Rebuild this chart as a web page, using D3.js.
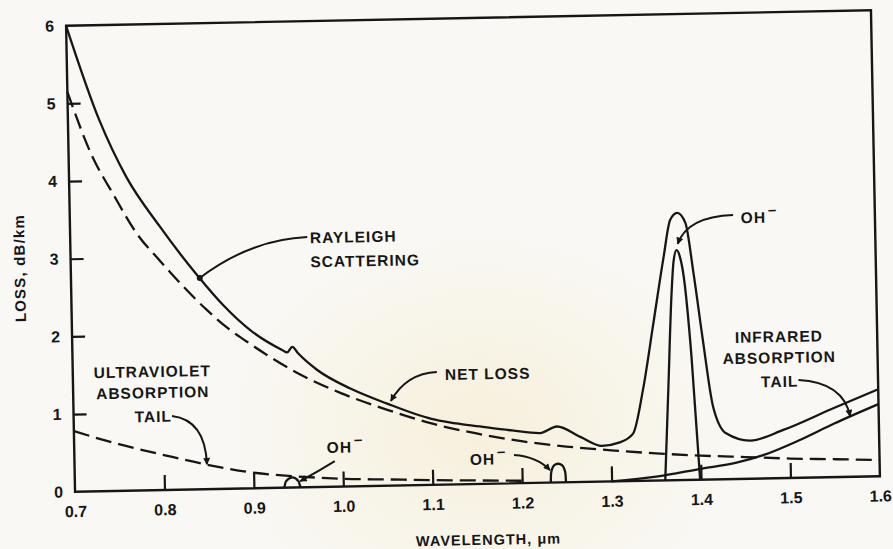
<!DOCTYPE html>
<html>
<head>
<meta charset="utf-8">
<script src="https://cdn.jsdelivr.net/npm/d3@7"></script>
<style>
  html, body { margin: 0; padding: 0; background: #f9f8f4; }
  figure { margin: 0; }
  svg { display: block; }
  text { font-family: "Liberation Sans", Arial, sans-serif; font-weight: bold; fill: #161616; }
</style>
</head>
<body>
<figure id="chart"></figure>
<script>
// values (wavelength in um, loss in dB/km)
const xTicks = [0.7, 0.8, 0.9, 1.0, 1.1, 1.2, 1.3, 1.4, 1.5, 1.6];
const yTicks = [0, 1, 2, 3, 4, 5, 6];

const netWl   = [0.70, 0.735, 0.764, 0.80, 0.843, 0.87, 0.90, 0.935, 0.940, 0.946, 0.952, 0.973, 1.01, 1.05, 1.10, 1.12, 1.154, 1.19, 1.221, 1.240, 1.266, 1.29, 1.31, 1.325, 1.337, 1.350, 1.363, 1.371, 1.379, 1.388, 1.396, 1.405, 1.415, 1.429, 1.456, 1.493, 1.55, 1.60];
const netLoss = [6.00, 4.78, 4.04, 3.40, 2.73, 2.36, 2.03, 1.77, 1.74, 1.81, 1.73, 1.51, 1.26, 1.06, 0.85, 0.80, 0.74, 0.68, 0.64, 0.72, 0.58, 0.46, 0.50, 0.61, 1.17, 2.02, 2.88, 3.35, 3.44, 3.31, 2.66, 1.80, 0.94, 0.59, 0.49, 0.62, 0.89, 1.12];

const rayWl   = [0.70, 0.725, 0.75, 0.775, 0.80, 0.825, 0.85, 0.875, 0.90, 0.95, 1.00, 1.05, 1.10, 1.15, 1.20, 1.25, 1.30, 1.35, 1.40, 1.45, 1.50, 1.55, 1.60];
const rayLoss = [5.15, 4.35, 3.80, 3.30, 2.95, 2.62, 2.32, 2.06, 1.85, 1.48, 1.20, 0.98, 0.79, 0.65, 0.54, 0.46, 0.40, 0.35, 0.31, 0.28, 0.25, 0.23, 0.21];

const uvWl   = [0.70, 0.75, 0.80, 0.85, 0.90, 0.95, 1.00, 1.05, 1.10, 1.15, 1.20];
const uvLoss = [0.78, 0.60, 0.45, 0.31, 0.20, 0.14, 0.10, 0.08, 0.06, 0.045, 0.03];

const irWl   = [1.30, 1.35, 1.40, 1.44, 1.47, 1.51, 1.55, 1.60];
const irLoss = [0.00, 0.05, 0.14, 0.21, 0.30, 0.48, 0.69, 0.93];

const oh1Wl   = [0.934, 0.936, 0.943, 0.950, 0.952];
const oh1Loss = [0.00, 0.08, 0.13, 0.08, 0.00];
const oh2Wl   = [1.232, 1.2325, 1.236, 1.2405, 1.245, 1.2485, 1.249];
const oh2Loss = [0.00, 0.12, 0.22, 0.24, 0.22, 0.12, 0.00];
const oh3Wl   = [1.360, 1.3655, 1.371, 1.374, 1.3775, 1.381, 1.385, 1.392, 1.399];
const oh3Loss = [0.00, 1.20, 2.40, 2.82, 2.96, 2.88, 2.62, 1.58, 0.00];

const width = 893, height = 549;
const plot = { left: 70.5, right: 875.5, top: 18, bottom: 484 };
const tilt = -1.1; // the page was scanned slightly crooked
const ink = "#161616";

const x = d3.scaleLinear().domain([0.7, 1.6]).range([plot.left, plot.right]);
const y = d3.scaleLinear().domain([0, 6]).range([plot.bottom, plot.top]);

const svg = d3.select("#chart").append("svg")
  .attr("width", width)
  .attr("height", height);

const defs = svg.append("defs");
const glow = defs.append("radialGradient").attr("id", "glow");
glow.append("stop").attr("offset", "0%").attr("stop-color", "#f3e6bd").attr("stop-opacity", 0.45);
glow.append("stop").attr("offset", "100%").attr("stop-color", "#f3e6bd").attr("stop-opacity", 0);

defs.append("marker")
  .attr("id", "arrow")
  .attr("viewBox", "0 0 10 10")
  .attr("refX", 9).attr("refY", 5)
  .attr("markerWidth", 9).attr("markerHeight", 7)
  .attr("markerUnits", "userSpaceOnUse")
  .attr("orient", "auto")
  .append("path")
  .attr("d", "M0,0 L10,5 L0,10 z")
  .attr("fill", ink);

// faint watermark of the scanned page
svg.append("ellipse")
  .attr("cx", 480).attr("cy", 430).attr("rx", 260).attr("ry", 200)
  .attr("fill", "url(#glow)");

const g = svg.append("g").attr("transform", `rotate(${tilt},473,251)`);

// frame
g.append("rect")
  .attr("x", plot.left).attr("y", plot.top)
  .attr("width", plot.right - plot.left).attr("height", plot.bottom - plot.top)
  .attr("fill", "none").attr("stroke", ink).attr("stroke-width", 2.4);

// axes, ticks point inward
const xAxis = g.append("g")
  .attr("transform", `translate(0,${plot.bottom})`)
  .call(d3.axisBottom(x).tickValues(xTicks).tickSize(-15).tickPadding(14).tickFormat(d3.format(".1f")));
const yAxis = g.append("g")
  .attr("transform", `translate(${plot.left},0)`)
  .call(d3.axisLeft(y).tickValues(yTicks).tickSize(-13).tickPadding(12).tickFormat(d3.format("d")));

[xAxis, yAxis].forEach(ax => {
  ax.select(".domain").remove();
  ax.selectAll(".tick line").attr("stroke", ink).attr("stroke-width", 2.2);
  ax.selectAll(".tick text").style("font-size", "16px").attr("fill", ink);
});
xAxis.selectAll(".tick line").filter(d => d === 0.7 || d === 1.6).remove();
yAxis.selectAll(".tick line").filter(d => d === 0 || d === 6).remove();

g.append("text")
  .attr("x", 483).attr("y", 545)
  .attr("text-anchor", "middle")
  .style("font-size", "14.5px").style("letter-spacing", "1px")
  .text("WAVELENGTH, \u03bcm");

g.append("text")
  .attr("transform", "translate(24.7,259.4) rotate(-90)")
  .attr("text-anchor", "middle")
  .style("font-size", "15px").style("letter-spacing", "1.2px")
  .text("LOSS, dB/km");

// curves
const line = d3.line()
  .x(d => x(d[0]))
  .y(d => y(d[1]))
  .curve(d3.curveMonotoneX);

function drawCurve(wl, loss, dash) {
  g.append("path")
    .datum(d3.zip(wl, loss))
    .attr("d", line)
    .attr("fill", "none")
    .attr("stroke", ink)
    .attr("stroke-width", 2.3)
    .attr("stroke-dasharray", dash || null);
}

drawCurve(rayWl, rayLoss, "16,7");
drawCurve(uvWl, uvLoss, "16,7");
drawCurve(irWl, irLoss);
drawCurve(oh1Wl, oh1Loss);
drawCurve(oh2Wl, oh2Loss);
drawCurve(oh3Wl, oh3Loss);
drawCurve(netWl, netLoss);

// annotations: leader lines (start, control, end) in data units
const leaders = [
  { from: [0.965, 3.22], ctrl: [0.901, 3.20], to: [0.844, 2.72], dot: true },
  { from: [1.107, 1.45], ctrl: [1.073, 1.44], to: [1.055, 1.09] },
  { from: [0.810, 0.95], ctrl: [0.847, 0.89], to: [0.848, 0.32] },
  { from: [1.511, 1.26], ctrl: [1.561, 1.22], to: [1.568, 0.78] },
  { from: [1.4415, 3.40], ctrl: [1.390, 3.39], to: [1.379, 3.04] },
  { from: [0.991, 0.33], ctrl: [0.972, 0.20], to: [0.952, 0.08] },
  { from: [1.1915, 0.363], ctrl: [1.217, 0.336], to: [1.2314, 0.16] }
];

leaders.forEach(l => {
  const p = g.append("path")
    .attr("d", `M${x(l.from[0])},${y(l.from[1])} Q${x(l.ctrl[0])},${y(l.ctrl[1])} ${x(l.to[0])},${y(l.to[1])}`)
    .attr("fill", "none")
    .attr("stroke", ink)
    .attr("stroke-width", 2);
  if (l.dot) {
    g.append("circle").attr("cx", x(l.to[0])).attr("cy", y(l.to[1])).attr("r", 3).attr("fill", ink);
  } else {
    p.attr("marker-end", "url(#arrow)");
  }
});

const labels = [
  { lines: ["RAYLEIGH", "SCATTERING"], at: [0.968, 3.14], rows: [3.14, 2.83], anchor: "start" },
  { lines: ["NET LOSS"], at: [1.116, 1.345], rows: [1.345], anchor: "start" },
  { lines: ["ULTRAVIOLET", "ABSORPTION", "TAIL"], at: [0.789, 1.456], rows: [1.456, 1.186, 0.878], anchor: "middle" },
  { lines: ["INFRARED", "ABSORPTION", "TAIL"], at: [1.49, 1.752], rows: [1.752, 1.482, 1.174], anchor: "middle" }
];

labels.forEach(lb => {
  lb.lines.forEach((t, i) => {
    g.append("text")
      .attr("x", x(lb.at[0]))
      .attr("y", y(lb.rows[i]))
      .attr("text-anchor", lb.anchor)
      .style("font-size", "15.5px")
      .style("letter-spacing", "1px")
      .text(t);
  });
});

const ohLabels = [[1.450, 3.29], [0.9823, 0.435], [1.142, 0.246]];
ohLabels.forEach(p => {
  const t = g.append("text")
    .attr("x", x(p[0])).attr("y", y(p[1]))
    .style("font-size", "15.5px")
    .style("letter-spacing", "1px")
    .text("OH");
  t.append("tspan")
    .attr("dx", 2).attr("dy", -8)
    .style("font-size", "15px")
    .text("\u2013");
});
</script>
</body>
</html>
